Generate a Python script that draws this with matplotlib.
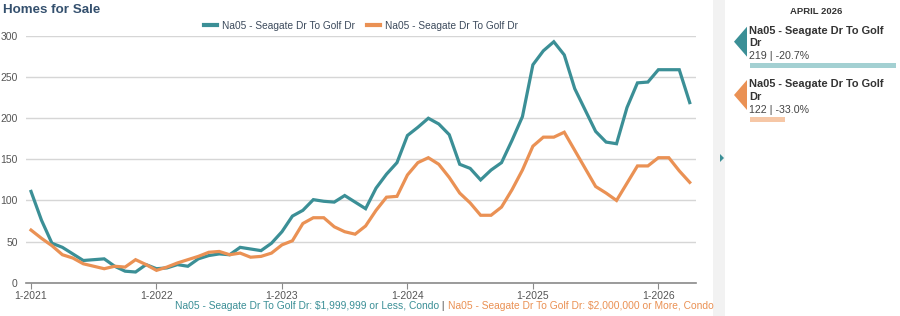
import numpy as np
import matplotlib.pyplot as plt
from matplotlib.patches import Polygon, Rectangle

plt.rcParams['font.family'] = ['Liberation Sans', 'DejaVu Sans']

# === Data (monthly, Jan 2021 - Apr 2026) ===
months = [f"{m}-{y}" for y in range(2021, 2027) for m in range(1, 13)][:64]

under_2m = [111, 76, 48, 43, 35, 27, 28, 29, 20, 14, 13, 22,
            17, 18, 22, 20, 29, 33, 35, 34, 43, 41, 39, 48,
            62, 81, 88, 101, 99, 98, 106, 98, 90, 115, 132, 146,
            179, 189, 200, 193, 180, 144, 139, 125, 137, 146, 173, 202,
            265, 282, 293, 277, 236, 210, 184, 171, 169, 213, 243, 244,
            259, 259, 259, 219]
over_2m = [64, 54, 45, 34, 30, 23, 20, 17, 20, 19, 28, 22,
           15, 19, 24, 28, 32, 37, 38, 34, 36, 31, 32, 36,
           46, 51, 72, 79, 79, 68, 62, 59, 69, 88, 104, 105,
           131, 146, 152, 144, 128, 109, 97, 82, 82, 92, 113, 137,
           166, 177, 177, 183, 161, 139, 117, 109, 100, 121, 142, 142,
           152, 152, 136, 122]

series_names = ["Na05 - Seagate Dr To Golf Dr", "Na05 - Seagate Dr To Golf Dr"]
series_long = ["Na05 - Seagate Dr To Golf Dr: $1,999,999 or Less, Condo",
               "Na05 - Seagate Dr To Golf Dr: $2,000,000 or More, Condo"]
panel_values = ["219 | -20.7%", "122 | -33.0%"]
panel_bar_frac = [1.0, 0.24]
panel_month = "APRIL 2026"
yticks = [0, 50, 100, 150, 200, 250, 300]

TEAL = "#3b8f96"
ORANGE = "#ea9154"
TEAL_LIGHT = "#a3d0d2"
ORANGE_LIGHT = "#f6c7a6"
TEXT = "#3c4a5c"

W, H = 900, 316


def px(x, y):
    return x / W, 1 - y / H


fig = plt.figure(figsize=(9, 3.16), dpi=100)
ax = fig.add_axes([26 / W, 1 - 282.7 / H, (696 - 26) / W, (282.7 - 36) / H])

x = np.arange(len(months))
ax.plot(x, under_2m, color=TEAL, lw=2.3, solid_joinstyle='miter', label=series_names[0])
ax.plot(x, over_2m, color=ORANGE, lw=2.3, solid_joinstyle='miter', label=series_names[1])

ax.set_xlim(-0.48, 63.6)
ax.set_ylim(0, 300)
ax.set_yticks(yticks)
ax.set_xticks(x[::12])
ax.set_xticklabels(months[::12])
ax.grid(axis='y', color='#d6d6d6', lw=1)
ax.set_axisbelow(True)
for s in ['top', 'right', 'left']:
    ax.spines[s].set_visible(False)
ax.spines['bottom'].set_color('#8a8a8a')
ax.spines['bottom'].set_linewidth(1.2)
ax.tick_params(axis='y', length=0, labelsize=7.5, labelcolor='#555555', pad=6)
ax.tick_params(axis='x', length=4, color='#8a8a8a', labelsize=7.5, labelcolor='#555555', pad=2)

leg = ax.legend(loc='lower center', bbox_to_anchor=(0.5, 1.0), ncol=2, frameon=False,
                fontsize=7.3, handlelength=1.3, handletextpad=0.5, columnspacing=1.2,
                borderaxespad=0.1)
for t in leg.get_texts():
    t.set_color(TEXT)
for h in leg.legend_handles:
    h.set_linewidth(3)

fig.text(*px(3, 10), "Homes for Sale", fontsize=9.6, fontweight='bold',
         color='#34506e', va='center', ha='left')

# bottom caption in series colours
t1 = fig.text(*px(175, 306), series_long[0], color=TEAL, fontsize=7.4, va='center', ha='left')
t2 = fig.text(0, 0, " | ", color='#555555', fontsize=7.4)
t3 = fig.text(0, 0, series_long[1], color=ORANGE, fontsize=7.4)
fig.canvas.draw()
r = fig.canvas.get_renderer()
bb = t1.get_window_extent(r)
t2.set_position((bb.x1 / W, bb.y0 / H))
t2.set_va('bottom')
bb2 = t2.get_window_extent(r)
t3.set_position((bb2.x1 / W, bb.y0 / H))
t3.set_va('bottom')

# separator strip with tab arrow
fig.patches.append(Rectangle(px(713, 316), 12 / W, 316 / H, transform=fig.transFigure,
                             facecolor='#f2f2f2', edgecolor='none'))
fig.patches.append(Polygon([px(720, 154), px(720, 162), px(724, 158)], closed=True,
                           transform=fig.transFigure, facecolor=TEAL, edgecolor='none'))

# right panel
fig.text(*px(816, 11), panel_month, fontsize=6.8, fontweight='bold', color='#333333',
         ha='center', va='center')
tops = [26.7, 80]
for i, (name, val, frac) in enumerate(zip(series_names, panel_values, panel_bar_frac)):
    c = [TEAL, ORANGE][i]
    cl = [TEAL_LIGHT, ORANGE_LIGHT][i]
    y0 = tops[i]
    fig.patches.append(Polygon([px(734, y0 + 15), px(747, y0), px(747, y0 + 30)], closed=True,
                               transform=fig.transFigure, facecolor=c, edgecolor='none'))
    fig.text(*px(749, y0 + 4), "Na05 - Seagate Dr To Golf", fontsize=7.9, fontweight='bold',
             color='#333333', ha='left', va='center')
    fig.text(*px(749, y0 + 16.5), "Dr", fontsize=7.9, fontweight='bold',
             color='#333333', ha='left', va='center')
    fig.text(*px(749, y0 + 29.5), val, fontsize=7.7, color='#444444', ha='left', va='center')
    fig.patches.append(Rectangle(px(750, y0 + 41.5), 146 * frac / W, 5 / H,
                                 transform=fig.transFigure, facecolor=cl, edgecolor='none'))

fig.savefig("out.png", dpi=100)
